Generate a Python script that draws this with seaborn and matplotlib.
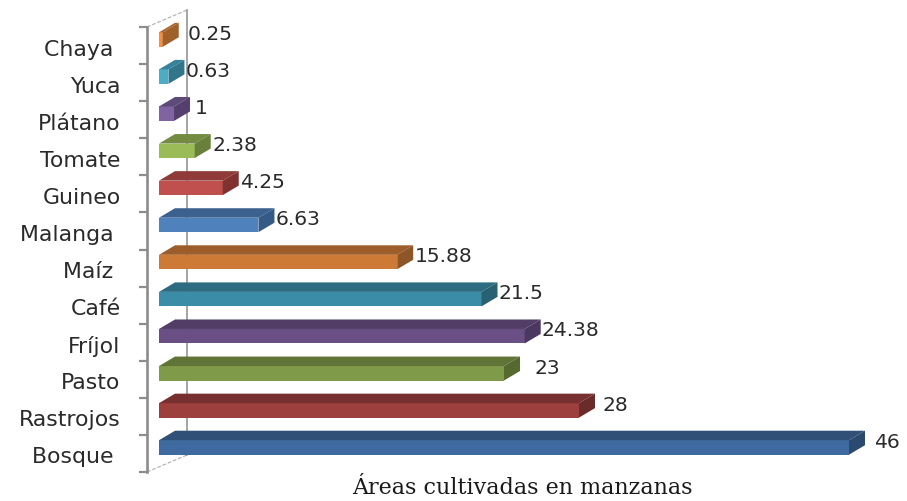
import matplotlib
matplotlib.use("Agg")
import matplotlib.pyplot as plt
import matplotlib.transforms as mtrans
import numpy as np
import pandas as pd
import seaborn as sns
from matplotlib.patches import Polygon

categories = ["Chaya ", "Yuca", "Plátano", "Tomate", "Guineo", "Malanga ",
              "Maíz ", "Café", "Fríjol", "Pasto", "Rastrojos", "Bosque "]
areas = [0.25, 0.63, 1, 2.38, 4.25, 6.63, 15.88, 21.5, 24.38, 23, 28, 46]
value_labels = ["0.25", "0.63", "1", "2.38", "4.25", "6.63", "15.88", "21.5",
                "24.38", "23", "28", "46"]

front_colors = ["#F28F42", "#4BACC6", "#8064A2", "#9BBB59", "#C0504D", "#4F81BD",
                "#CD7A36", "#3B8CA6", "#6A4F85", "#7F9A48", "#9C3F3D", "#3F6A9F"]
top_colors = ["#A9652C", "#37829A", "#5E4A78", "#738C42", "#8F3B39", "#3B618F",
              "#9C5D2A", "#2D6B80", "#513D66", "#607438", "#763030", "#315078"]
side_colors = ["#A0602A", "#30758A", "#553F6E", "#68803A", "#7F3230", "#345A85",
               "#8E5526", "#296072", "#4A3860", "#566A30", "#6B2B2B", "#2C4A70"]
# extra gap between bar end and its value label, in px
label_gaps = [9, 1, 5, 2, 1, 1, 2, 1, 1, 15, 7, 9]

W, H = 907, 501
PX_PER_UNIT = 15.0


def px_axes(left, top, right, bottom):
    return fig.add_axes([left / W, 1 - bottom / H, (right - left) / W, (bottom - top) / H])


df = pd.DataFrame({"cat": categories, "area": areas})

fig = plt.figure(figsize=(W / 100, H / 100), dpi=100)

# back wall, axis line, ticks and category names
wall = px_axes(147, 27, 907, 472)
wall.set_xlim(-12 / PX_PER_UNIT, (907 - 159) / PX_PER_UNIT)
wall.set_ylim(11.5, -0.5)
for name in ["top", "right", "bottom"]:
    wall.spines[name].set_visible(False)
wall.spines["left"].set_color("#8C8C8C")
wall.spines["left"].set_linewidth(1.9)
wall.set_xticks([])
wall.set_yticks(np.arange(12))
wall.set_yticklabels(categories, family="DejaVu Sans", fontsize=15.8, color="#2A2A2A")
wall.tick_params(axis="y", which="major", length=0, pad=19)
wall.set_yticks(np.arange(-0.5, 12), minor=True)
wall.tick_params(axis="y", which="minor", length=6, width=1.6, color="#8C8C8C")
nudge = mtrans.ScaledTranslation(0, -2 / 100, fig.dpi_scale_trans)
for lab in wall.get_yticklabels():
    lab.set_transform(lab.get_transform() + nudge)

wall_dx = 40 / PX_PER_UNIT
wall_dy = 17 / 37.08
x0 = -12 / PX_PER_UNIT
wall.plot([x0, x0 + wall_dx], [-0.5, -0.5 - wall_dy], color="#B5B5B5", lw=0.9,
          ls=(0, (3, 1.5)), clip_on=False)
wall.plot([x0, x0 + wall_dx], [11.5, 11.5 - wall_dy], color="#B5B5B5", lw=0.9,
          ls=(0, (3, 1.5)), clip_on=False)
wall.plot([x0 + wall_dx] * 2, [-0.5 - wall_dy, 11.5 - wall_dy], color="#8C8C8C", lw=1.1,
          clip_on=False)

# bars sit a few px up and right of the axis band
ax = px_axes(159, 21, 907, 466)
ax.patch.set_alpha(0)
sns.barplot(data=df, x="area", y="cat", hue="cat", order=categories, hue_order=categories,
            palette=front_colors, width=0.39, dodge=False, legend=False, ax=ax,
            saturation=1, linewidth=0)
ax.set_xlim(0, (907 - 159) / PX_PER_UNIT)
ax.set_ylim(11.5, -0.5)
ax.axis("off")

dx = 16 / PX_PER_UNIT
dy = 9.5 / 37.08
bars = [c[0] for c in ax.containers]
for bar, top_c, side_c, text, gap in zip(bars, top_colors, side_colors, value_labels, label_gaps):
    x1 = bar.get_x() + bar.get_width()
    y_a, y_b = sorted([bar.get_y(), bar.get_y() + bar.get_height()])
    ax.add_patch(Polygon([(0, y_a), (x1, y_a), (x1 + dx, y_a - dy), (dx, y_a - dy)],
                         closed=True, fc=top_c, ec="none", clip_on=False))
    ax.add_patch(Polygon([(x1, y_a), (x1 + dx, y_a - dy), (x1 + dx, y_b - dy), (x1, y_b)],
                         closed=True, fc=side_c, ec="none", clip_on=False))
    ax.annotate(text, xy=(x1 + dx, (y_a + y_b) / 2), xytext=(gap * 0.72, 3.8),
                textcoords="offset points", va="center", ha="left",
                family="DejaVu Sans", fontsize=14.6, color="#2A2A2A", annotation_clip=False)

fig.text(522 / W, 1 - 488 / H, "Áreas cultivadas en manzanas", ha="center", va="center",
         family="DejaVu Serif", fontsize=16, color="#1A1A1A")

fig.savefig("out.png", dpi=100)
